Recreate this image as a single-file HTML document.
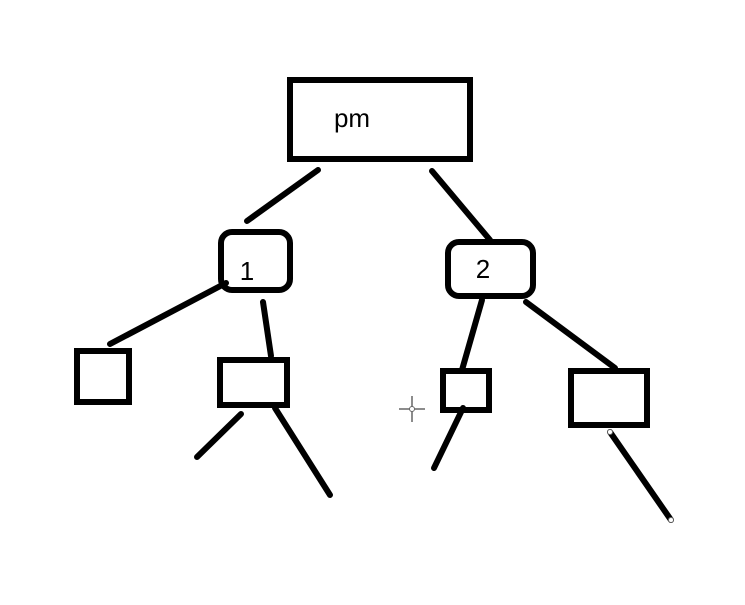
<!DOCTYPE html>
<html><head><style>body{margin:0;background:#fff}</style></head><body>
<svg width="745" height="600" xmlns="http://www.w3.org/2000/svg">
<rect width="745" height="600" fill="#fff"/>
<g fill="none" stroke="#000" stroke-width="6" stroke-linecap="round">
<rect x="290" y="80" width="180" height="79"/>
<rect x="221" y="232" width="69" height="58" rx="11"/>
<rect x="448" y="242" width="85" height="54" rx="11"/>
<rect x="77" y="351" width="52" height="51"/>
<rect x="220" y="360" width="67" height="45"/>
<rect x="443" y="371" width="46" height="39"/>
<rect x="571" y="371" width="76" height="54"/>
<line x1="318" y1="170" x2="247" y2="221"/>
<line x1="432" y1="171" x2="490" y2="240"/>
<line x1="226" y1="283" x2="110" y2="344"/>
<line x1="263" y1="302" x2="271" y2="356"/>
<line x1="241" y1="414" x2="197" y2="457"/>
<line x1="275" y1="408" x2="330" y2="495"/>
<line x1="482" y1="300" x2="462" y2="370"/>
<line x1="463" y1="408" x2="434" y2="468"/>
<line x1="526" y1="302" x2="615" y2="368"/>
<line x1="610" y1="432" x2="671" y2="520"/>
</g>
<circle cx="610" cy="432" r="2.5" fill="#fff" stroke="#666" stroke-width="1"/>
<circle cx="671" cy="520" r="2.5" fill="#fff" stroke="#666" stroke-width="1"/>
<g stroke="#666" stroke-width="1.5"><line x1="412" y1="396" x2="412" y2="422"/><line x1="399" y1="409" x2="425" y2="409"/></g>
<circle cx="412" cy="409" r="2.5" fill="#fff" stroke="#666"/>
<g font-family="Liberation Sans, sans-serif" fill="#000">
<text x="352" y="127" font-size="26" text-anchor="middle">pm</text>
<text x="247" y="280" font-size="26" text-anchor="middle">1</text>
<text x="483" y="278" font-size="26" text-anchor="middle">2</text>
</g>
</svg>
</body></html>
